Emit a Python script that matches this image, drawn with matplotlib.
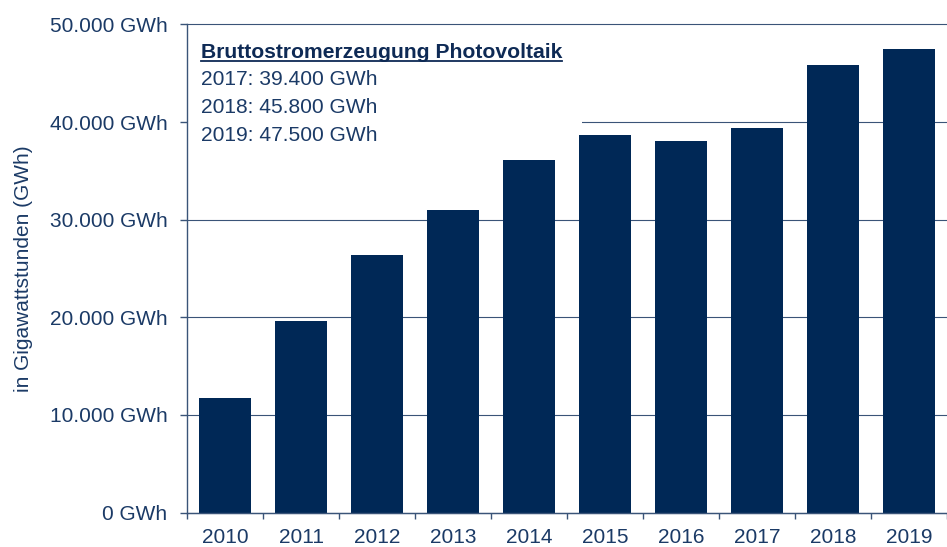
import matplotlib
matplotlib.use("Agg")
import matplotlib.pyplot as plt
from matplotlib.patches import Rectangle

plt.rcParams['font.family'] = ['Liberation Sans', 'DejaVu Sans']

years = ['2010', '2011', '2012', '2013', '2014', '2015', '2016', '2017', '2018', '2019']
values = [11700, 19600, 26350, 30950, 36150, 38700, 38050, 39400, 45800, 47500]
yticks = [0, 10000, 20000, 30000, 40000, 50000]
ytick_labels = ['0 GWh', '10.000 GWh', '20.000 GWh', '30.000 GWh', '40.000 GWh', '50.000 GWh']
box_title = 'Bruttostromerzeugung Photovoltaik'
box_lines = ['2017: 39.400 GWh', '2018: 45.800 GWh', '2019: 47.500 GWh']

bar_color = '#002856'
text_color = '#1b3a66'
grid_color = '#3a5478'

W, H = 947, 547
fig = plt.figure(figsize=(W / 100, H / 100), dpi=100)
ax = fig.add_axes([187 / W, 1 - 512.5 / H, (947 - 187) / W, (512.5 - 24.5) / H])

x = list(range(len(years)))
ax.bar(x, values, width=0.675, color=bar_color, zorder=3)
ax.set_xlim(-0.5, 9.357)
ax.set_ylim(0, 50000)

ax.set_yticks(yticks)
ax.set_yticklabels(ytick_labels, fontsize=15, color=text_color)
ax.tick_params(axis='y', direction='out', length=5, width=1, color=grid_color, pad=9)
ax.yaxis.grid(True, color=grid_color, linewidth=0.8, zorder=0)
for gl in ax.get_ygridlines():
    gl.set_clip_on(False)

# ticks at category boundaries, labels centered under bars
ax.set_xticks([i - 0.5 for i in range(len(years) + 1)])
ax.set_xticklabels([''] * (len(years) + 1))
ax.set_xticks(x, minor=True)
ax.set_xticklabels(years, minor=True, fontsize=15, color=text_color)
ax.tick_params(axis='x', which='major', direction='out', length=4, width=1, color=grid_color)
ax.tick_params(axis='x', which='minor', length=0, pad=11)

for s in ['top', 'right']:
    ax.spines[s].set_visible(False)
for s in ['left', 'bottom']:
    ax.spines[s].set_color(grid_color)
    ax.spines[s].set_linewidth(1)
    ax.spines[s].set_zorder(4)

ax.set_ylabel('in Gigawattstunden (GWh)', fontsize=15, color=text_color, labelpad=12)

# white box behind the info text (hides part of the 40.000 gridline)
# x in axes coords, y in data coords
ax.add_patch(Rectangle((0, 38900), 0.52, 10000, transform=ax.get_yaxis_transform(),
                       facecolor='white', edgecolor='none', zorder=2))

t = fig.text(201 / W, 1 - 52 / H, box_title, fontsize=15.2, fontweight='bold',
             color='#0e2a55', va='center', ha='left')
for i, line in enumerate(box_lines):
    fig.text(201 / W, 1 - (79.5 + i * 27.8) / H, line, fontsize=15.1,
             color=text_color, va='center', ha='left')

fig.canvas.draw()
bb = t.get_window_extent()
uy = bb.y0 + 1
fig.add_artist(plt.Line2D([bb.x0 / W, bb.x1 / W], [uy / H, uy / H],
                          color='#0e2a55', linewidth=1.3))

fig.savefig('out.png', dpi=100)
